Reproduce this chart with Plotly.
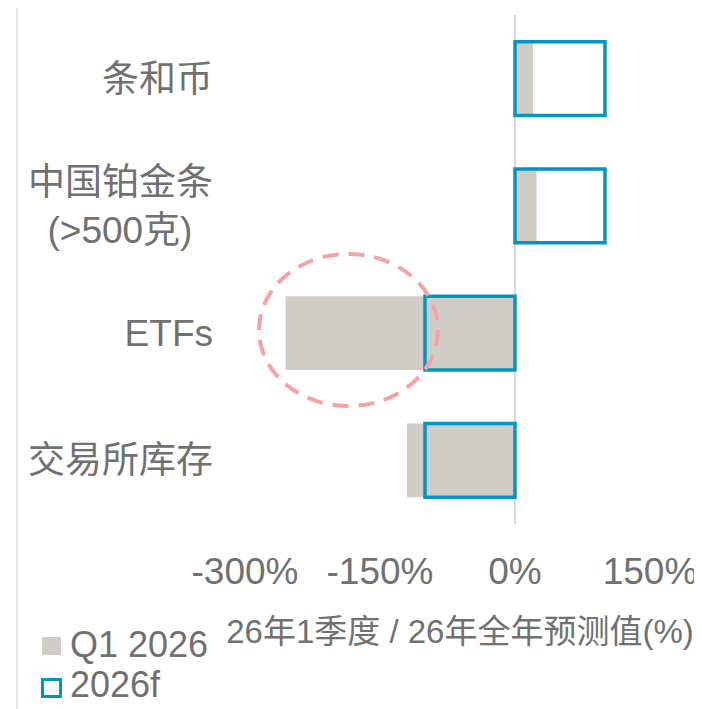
import plotly.graph_objects as go

# ---- data ----
categories = ["条和币", "中国铂金条<br>(>500克)\u00a0\u00a0", "ETFs", "交易所库存"]
q1_2026 = [20, 24, -255, -120]
f2026 = [100, 100, -100, -100]
tick_vals = [-300, -150, 0, 150]
tick_text = ["-300%", "-150%", "0%", "150%"]
series_names = ["Q1 2026", "2026f"]
x_title = "26年1季度 / 26年全年预测值(%)"

FONT = "Liberation Sans, Arial, Noto Sans CJK SC, sans-serif"
TXT = "#707070"
GRAY = "#D0CDC8"
BLUE = "#0096C1"

fig = go.Figure()
fig.add_trace(go.Bar(
    y=categories, x=q1_2026, orientation="h", name=series_names[0],
    marker=dict(color=GRAY, line=dict(width=0)), showlegend=False,
))
fig.add_trace(go.Bar(
    y=categories, x=f2026, orientation="h", name=series_names[1],
    marker=dict(color="rgba(0,0,0,0)", line=dict(color=BLUE, width=3.5)),
    showlegend=False,
))

# dashed highlight ellipse
fig.add_shape(type="circle", xref="x", yref="y",
              x0=-284.5, x1=-85.6, y0=1.378, y1=2.573,
              line=dict(color="#F4A2A2", width=4, dash="16px,10px"),
              layer="above")
# thin left border line
fig.add_shape(type="line", xref="paper", yref="paper",
              x0=-0.423, x1=-0.423, y0=-0.40, y1=1.05,
              line=dict(color="#C8C8C8", width=1))

# legend (drawn manually for larger swatches)
fig.add_shape(type="rect", xref="paper", yref="paper",
              x0=-0.3708, x1=-0.3313, y0=-0.2574, y1=-0.2220,
              fillcolor=GRAY, line=dict(width=0))
fig.add_shape(type="rect", xref="paper", yref="paper",
              x0=-0.3698, x1=-0.3323, y0=-0.3389, y1=-0.3055,
              fillcolor="white", line=dict(color=BLUE, width=3))
fig.add_annotation(xref="paper", yref="paper", x=-0.3167, y=-0.2377,
                   xanchor="left", yanchor="middle", showarrow=False,
                   text=series_names[0], font=dict(size=36, color=TXT))
fig.add_annotation(xref="paper", yref="paper", x=-0.3167, y=-0.3595,
                   xanchor="left", yanchor="bottom", showarrow=False,
                   text=series_names[1], font=dict(size=36, color=TXT))

fig.update_layout(
    width=694, height=701,
    margin=dict(l=212, r=2, t=7, b=185, autoexpand=False),
    plot_bgcolor="white", paper_bgcolor="white",
    barmode="overlay", bargap=0.42,
    font=dict(family=FONT, color=TXT),
    showlegend=False,
    xaxis=dict(range=[-327.8, 205.6], tickvals=tick_vals, ticktext=tick_text,
               showgrid=False, showline=False, ticks="", automargin=False,
               zeroline=True, zerolinecolor="#D9D9D9", zerolinewidth=2,
               tickfont=dict(size=37, color=TXT), ticklabelstandoff=22,
               title=dict(text=x_title, font=dict(size=33, color=TXT), standoff=28)),
    yaxis=dict(autorange="reversed", showgrid=False, showline=False, ticks="",
               zeroline=False, tickfont=dict(size=37, color=TXT), automargin=False,
               ticklabelstandoff=6),
)

fig.write_html("out.html")
